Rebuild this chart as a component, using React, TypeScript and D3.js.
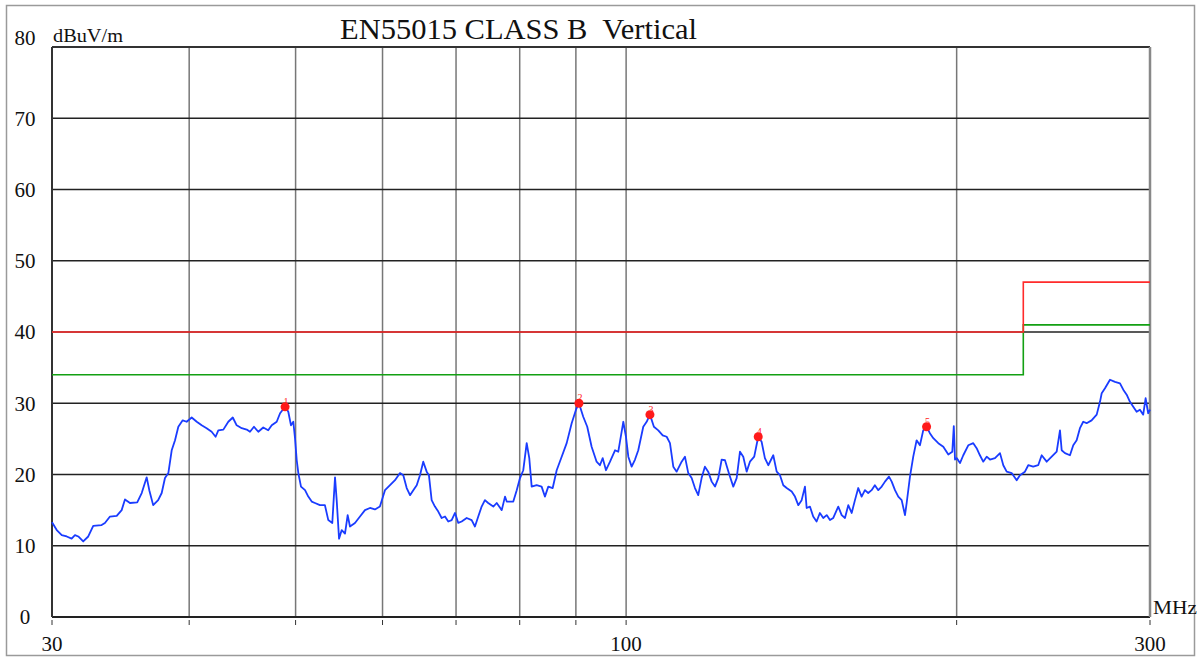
import * as d3 from 'd3';
import * as React from 'react';
import { Component } from 'react';

const WIDTH = 1200;
const HEIGHT = 659;

// scan trace (MHz / dBuV/m)
const freqMHz = [
  30.00, 30.30, 30.62, 30.94, 31.26, 31.48, 31.70, 32.03, 32.37, 32.71,
  33.29, 33.52, 33.88, 34.36, 34.72, 34.96, 35.33, 35.87, 36.21, 36.59,
  36.79, 37.09, 37.48, 37.76, 38.02, 38.29, 38.56, 38.83, 39.10, 39.46,
  39.79, 40.21, 40.64, 41.06, 41.49, 41.93, 42.28, 42.52, 42.97, 43.42,
  43.83, 44.19, 44.66, 45.13, 45.44, 45.82, 46.24, 46.72, 47.21, 47.56,
  48.06, 48.40, 48.91, 49.24, 49.52, 49.76, 49.94, 50.12, 50.29, 50.57,
  51.00, 51.35, 51.72, 52.07, 52.62, 53.17, 53.55, 54.00, 54.31, 54.50,
  54.77, 55.08, 55.46, 55.77, 56.04, 56.63, 57.23, 57.83, 58.44, 59.05,
  59.67, 60.31, 60.95, 61.59, 62.24, 62.67, 63.12, 63.56, 64.00, 64.46,
  64.90, 65.35, 65.82, 66.13, 66.51, 66.97, 67.44, 67.92, 68.40, 68.87,
  69.36, 69.85, 70.33, 70.83, 71.58, 72.33, 72.83, 73.34, 73.86, 74.37,
  74.88, 75.69, 76.23, 77.04, 77.57, 77.85, 78.93, 79.50, 80.05, 80.60,
  81.18, 81.62, 82.03, 82.89, 83.76, 84.34, 84.94, 85.73, 86.45, 87.36,
  88.28, 89.21, 90.02, 90.58, 91.40, 92.17, 93.02, 94.00, 94.65, 95.21,
  95.87, 96.68, 97.70, 98.37, 99.41, 99.97, 100.46, 101.17, 101.88, 102.58,
  103.66, 104.40, 105.12, 106.00, 106.98, 107.97, 108.88, 109.63, 110.40, 111.18,
  112.35, 113.13, 113.92, 114.73, 115.53, 116.33, 117.15, 117.96, 118.78, 119.66,
  120.49, 121.32, 122.19, 123.04, 124.15, 125.20, 126.09, 126.97, 127.85, 128.76,
  129.65, 130.82, 131.92, 132.86, 133.78, 134.73, 136.15, 137.13, 138.08, 139.04,
  140.03, 141.51, 142.49, 143.48, 144.50, 145.50, 146.02, 147.03, 148.04, 149.10,
  150.13, 151.20, 152.29, 153.34, 154.41, 156.03, 157.15, 158.24, 159.34, 160.48,
  161.59, 162.71, 163.87, 165.00, 166.14, 167.32, 168.48, 169.69, 170.91, 172.09,
  173.54, 174.53, 175.74, 176.96, 178.22, 179.46, 180.10, 181.35, 182.60, 183.90,
  185.18, 186.46, 187.78, 189.08, 190.44, 192.45, 194.48, 196.53, 198.18, 198.81,
  199.31, 200.02, 201.40, 202.80, 204.93, 207.09, 208.56, 210.00, 211.45, 213.00,
  214.48, 216.74, 219.03, 220.55, 222.13, 224.46, 226.83, 228.40, 230.80, 232.40,
  234.84, 237.30, 239.04, 241.56, 244.11, 246.68, 248.39, 249.28, 251.00, 253.65,
  255.40, 257.23, 259.01, 260.80, 262.66, 265.41, 268.27, 270.13, 271.10, 272.98,
  275.86, 278.76, 281.70, 283.65, 285.68, 287.66, 289.65, 291.71, 293.73, 295.76,
  297.25, 298.86, 300.00
];
const levelDb = [
  13.3, 12.2, 11.5, 11.3, 11.0, 11.5, 11.3, 10.6, 11.3, 12.8,
  12.9, 13.2, 14.1, 14.2, 15.0, 16.5, 16.0, 16.1, 17.4, 19.6,
  17.8, 15.7, 16.4, 17.4, 19.5, 20.2, 23.4, 24.8, 26.7, 27.6,
  27.4, 28.0, 27.4, 26.9, 26.5, 26.0, 25.3, 26.2, 26.3, 27.4,
  28.0, 26.9, 26.5, 26.3, 26.0, 26.7, 26.0, 26.6, 26.2, 26.9,
  27.4, 28.6, 29.5, 28.8, 26.9, 27.4, 25.1, 22.0, 20.2, 18.3,
  17.8, 16.9, 16.2, 16.0, 15.7, 15.7, 13.6, 13.2, 19.6, 16.4,
  11.0, 12.2, 11.7, 14.3, 12.7, 13.2, 14.1, 15.0, 15.3, 15.1,
  15.5, 17.8, 18.5, 19.2, 20.2, 19.9, 18.1, 17.1, 17.8, 18.5,
  19.9, 21.8, 20.4, 19.9, 16.4, 15.5, 14.8, 13.9, 14.1, 13.4,
  13.6, 14.6, 13.2, 13.4, 13.9, 13.6, 12.7, 14.1, 15.5, 16.4,
  16.0, 15.5, 16.0, 15.0, 16.9, 16.2, 16.2, 17.8, 19.5, 20.6,
  24.4, 22.3, 18.3, 18.5, 18.3, 16.9, 18.3, 18.1, 20.6, 22.5,
  24.4, 27.2, 29.1, 30.0, 28.1, 26.7, 23.9, 21.8, 21.3, 22.3,
  20.6, 21.8, 23.4, 23.2, 27.4, 25.3, 22.5, 21.1, 22.1, 23.4,
  26.7, 27.4, 28.4, 26.7, 26.2, 25.5, 25.3, 24.4, 21.1, 20.4,
  21.8, 22.5, 20.2, 19.5, 18.1, 17.1, 19.5, 21.1, 20.4, 19.0,
  18.3, 19.5, 22.1, 22.0, 20.0, 18.3, 19.5, 23.2, 22.5, 20.4,
  21.8, 22.5, 25.3, 24.6, 22.3, 21.3, 22.7, 20.4, 19.9, 18.5,
  18.1, 17.6, 16.9, 15.7, 16.4, 18.3, 15.3, 15.5, 14.1, 13.4,
  14.6, 13.9, 14.3, 13.6, 13.9, 15.5, 14.3, 13.9, 15.7, 14.6,
  16.4, 18.1, 16.9, 17.8, 17.4, 17.8, 18.5, 17.8, 18.3, 19.0,
  19.7, 19.0, 17.8, 16.9, 16.4, 14.3, 16.0, 19.7, 22.5, 24.8,
  24.1, 26.2, 26.7, 25.8, 25.1, 24.4, 23.9, 22.8, 23.2, 26.8,
  22.1, 22.3, 21.6, 22.7, 24.1, 24.4, 23.7, 22.7, 21.8, 22.5,
  22.1, 22.3, 23.0, 21.3, 20.4, 20.2, 19.2, 19.9, 20.4, 21.3,
  21.1, 21.3, 22.7, 21.8, 22.5, 23.2, 26.2, 23.4, 23.0, 22.7,
  24.1, 24.8, 26.5, 27.4, 27.2, 27.6, 28.4, 30.2, 31.4, 32.1,
  33.3, 33.0, 32.8, 31.9, 31.2, 30.2, 29.5, 28.8, 29.1, 28.4,
  30.7, 28.6, 29.1
];

// peak markers
const markerFreq = [48.91, 90.58, 105.12, 131.92, 187.78];
const markerLevel = [29.5, 30.0, 28.4, 25.3, 26.7];
const markerLabel = ['1', '2', '3', '4', '5'];

// limit lines (step after each edge)
const limitFreq = [30, 230, 300];
const qpLimit = [40, 47, 47];
const warnLimit = [34, 41, 41];

const gridFreq = [40, 50, 60, 70, 80, 90, 100, 200];
const tickFreq = [30, 40, 50, 60, 70, 80, 90, 100, 200, 300];
const xLabels = [30, 100, 300];
const yTicks = [0, 10, 20, 30, 40, 50, 60, 70, 80];

const SERIF = '"Liberation Serif", "DejaVu Serif", serif';

export default class App extends Component {

  private mountPoint: HTMLDivElement | null = null;

  public componentDidMount() {
    this.renderChart();
  }

  public render() {
    const style: React.CSSProperties = {
      position: 'absolute',
      left: 0,
      top: 0,
      width: WIDTH,
      height: HEIGHT,
      background: '#fff'
    };
    return <div style={style} ref={el => { this.mountPoint = el; }} />;
  }

  private renderChart = () => {
    if (!this.mountPoint) { return; }
    d3.select(this.mountPoint).selectAll('*').remove();

    const left = 52, right = 1150, top = 47, bottom = 617;

    const svg = d3.select(this.mountPoint)
      .append('svg')
      .attr('width', WIDTH)
      .attr('height', HEIGHT)
      .style('display', 'block');

    const x = d3.scaleLog().domain([30, 300]).range([left, right]);
    const y = d3.scaleLinear().domain([0, 80]).range([bottom, top]);

    svg.append('rect')
      .attr('width', WIDTH).attr('height', HEIGHT).attr('fill', '#fff');

    // outer frame
    svg.append('rect')
      .attr('x', 6.5).attr('y', 5.5)
      .attr('width', 1188).attr('height', 650)
      .attr('fill', 'none').attr('stroke', '#9a9a9a').attr('stroke-width', 1.5);

    // vertical grid
    svg.append('g').selectAll('line')
      .data(gridFreq)
      .enter().append('line')
      .attr('x1', d => x(d)).attr('x2', d => x(d))
      .attr('y1', top).attr('y2', bottom)
      .attr('stroke', '#777').attr('stroke-width', 1.5);

    // horizontal grid
    svg.append('g').selectAll('line')
      .data(yTicks.filter(v => v > 0 && v < 80))
      .enter().append('line')
      .attr('x1', left).attr('x2', right)
      .attr('y1', d => y(d)).attr('y2', d => y(d))
      .attr('stroke', '#222').attr('stroke-width', 1.6);

    // plot frame
    const frame = svg.append('g').attr('stroke-width', 2);
    frame.append('line').attr('x1', left).attr('x2', right).attr('y1', top).attr('y2', top).attr('stroke', '#333');
    frame.append('line').attr('x1', left).attr('x2', right).attr('y1', bottom).attr('y2', bottom).attr('stroke', '#222');
    frame.append('line').attr('x1', left).attr('x2', left).attr('y1', top).attr('y2', bottom).attr('stroke', '#333');
    frame.append('line').attr('x1', right).attr('x2', right).attr('y1', top).attr('y2', bottom)
      .attr('stroke', '#888').attr('stroke-width', 2.5);

    // small ticks below the axis
    svg.append('g').selectAll('line')
      .data(tickFreq)
      .enter().append('line')
      .attr('x1', d => x(d)).attr('x2', d => x(d))
      .attr('y1', bottom + 3).attr('y2', bottom + 8)
      .attr('stroke', '#333').attr('stroke-width', 1);

    // limit lines
    const idx = d3.range(limitFreq.length);
    const stepLine = (vals: number[]) => d3.line<number>()
      .x(i => x(limitFreq[i]))
      .y(i => y(vals[i]))
      .curve(d3.curveStepAfter)(idx);

    svg.append('path')
      .attr('d', stepLine(warnLimit) as string)
      .attr('fill', 'none').attr('stroke', '#13a013').attr('stroke-width', 1.6);
    svg.append('path')
      .attr('d', stepLine(qpLimit) as string)
      .attr('fill', 'none').attr('stroke', '#ff2b2b').attr('stroke-width', 1.6);

    // trace
    const trace = d3.line<number>()
      .x(i => x(freqMHz[i]))
      .y(i => y(levelDb[i]));

    svg.append('path')
      .attr('d', trace(d3.range(freqMHz.length)) as string)
      .attr('fill', 'none')
      .attr('stroke', '#1a3cff')
      .attr('stroke-width', 1.8)
      .attr('stroke-linejoin', 'round');

    // markers
    const mk = svg.append('g').selectAll('g')
      .data(d3.range(markerFreq.length))
      .enter().append('g');
    mk.append('circle')
      .attr('cx', i => x(markerFreq[i]))
      .attr('cy', i => y(markerLevel[i]))
      .attr('r', 4.5)
      .attr('fill', '#ff1a1a');
    mk.append('text')
      .attr('x', i => x(markerFreq[i]) + 1)
      .attr('y', i => y(markerLevel[i]) - 2)
      .attr('text-anchor', 'middle')
      .attr('font-family', SERIF)
      .attr('font-size', 10)
      .attr('fill', '#ff1a1a')
      .text(i => markerLabel[i]);

    // y labels
    svg.append('g').selectAll('text')
      .data(yTicks)
      .enter().append('text')
      .attr('x', 25)
      .attr('y', d => (d === 80 ? y(d) - 9 : y(d)))
      .attr('dy', '0.35em')
      .attr('text-anchor', 'middle')
      .attr('font-family', SERIF)
      .attr('font-size', 21)
      .attr('fill', '#111')
      .text(d => String(d));

    // x labels
    svg.append('g').selectAll('text')
      .data(xLabels)
      .enter().append('text')
      .attr('x', d => x(d))
      .attr('y', 651)
      .attr('text-anchor', 'middle')
      .attr('font-family', SERIF)
      .attr('font-size', 21)
      .attr('fill', '#111')
      .text(d => String(d));

    svg.append('text')
      .attr('x', 1153).attr('y', 614)
      .attr('font-family', SERIF).attr('font-size', 19)
      .attr('textLength', 44).attr('lengthAdjust', 'spacingAndGlyphs')
      .attr('fill', '#111')
      .text('MHz');

    svg.append('text')
      .attr('x', 53).attr('y', 42)
      .attr('font-family', SERIF).attr('font-size', 18)
      .attr('textLength', 70).attr('lengthAdjust', 'spacingAndGlyphs')
      .attr('fill', '#111')
      .text('dBuV/m');

    svg.append('text')
      .attr('x', 340).attr('y', 39)
      .attr('font-family', SERIF).attr('font-size', 29)
      .attr('textLength', 357).attr('lengthAdjust', 'spacingAndGlyphs')
      .style('white-space', 'pre')
      .attr('fill', '#111')
      .text('EN55015 CLASS B  Vertical');
  }
}
